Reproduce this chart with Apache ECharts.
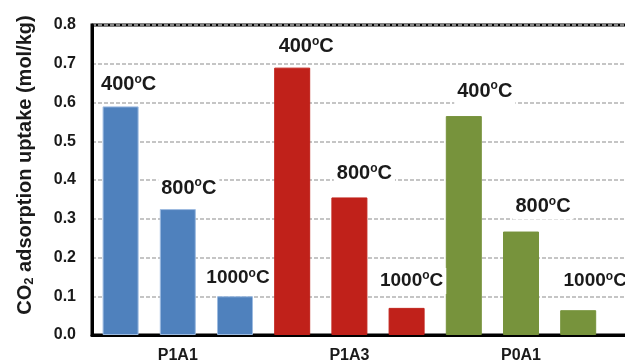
<!DOCTYPE html>
<html>
<head>
<meta charset="utf-8">
<script src="https://cdn.jsdelivr.net/npm/echarts@6/dist/echarts.min.js"></script>
<style>
html,body{margin:0;padding:0;background:#fff;overflow:hidden;width:625px;height:364px;}
#chart{width:670px;height:364px;}
</style>
</head>
<body>
<div id="chart"></div>
<script>
// ---- data ----
const groups = ['P1A1', 'P1A3', 'P0A1'];
const temps = ['400', '800', '1000'];
const p1a1 = [0.59, 0.325, 0.10];
const p1a3 = [0.69, 0.355, 0.07];
const p0a1 = [0.565, 0.267, 0.064];
const yTicks = ['0.0', '0.1', '0.2', '0.3', '0.4', '0.5', '0.6', '0.7', '0.8'];

// ---- styles ----
const groupColors = ['#4f81bd', '#c0211a', '#77933c'];
const groupBorders = ['#9dbbe0', '#c0211a', '#77933c'];
// label nudges [dx, dy] relative to bar top (style only)
const labelNudge = [
  [8, -9], [11, -8], [3, -5],
  [14, -8], [15, -11], [5, -14],
  [21, -12], [22, -12], [17, -16]
];

const groupValues = [p1a1, p1a3, p0a1];
const categories = [];
const barData = [];
groups.forEach((g, gi) => {
  temps.forEach((t, ti) => {
    categories.push(g + ' ' + t);
    const idx = gi * 3 + ti;
    const big = t === '1000' ? 'm' : 'n';
    barData.push({
      value: groupValues[gi][ti],
      itemStyle: { color: groupColors[gi], borderColor: groupBorders[gi], borderWidth: 1 },
      label: {
        offset: labelNudge[idx],
        formatter: '{' + big + '|' + t + '}{s|o}{' + big + '|C}'
      }
    });
  });
});
categories.push(''); // spare slot: the plot continues past the right edge

const chart = echarts.init(document.getElementById('chart'), null, { renderer: 'canvas' });
const FONT = '"Liberation Sans", Arial, Helvetica, sans-serif';
chart.setOption({
  animation: false,
  backgroundColor: '#fff',
  grid: {
    left: 92, top: 25, bottom: 27.5, right: 6,
    show: true, borderColor: '#000', borderWidth: 3, backgroundColor: 'transparent'
  },
  xAxis: {
    type: 'category',
    data: categories,
    axisLine: { show: true, lineStyle: { color: '#000', width: 3 } },
    axisTick: { show: false },
    axisLabel: {
      interval: 0,
      margin: 13,
      fontFamily: FONT, fontWeight: 'bold', fontSize: 16, color: '#1a1a1a',
      formatter: (v, i) => (i % 3 === 1 ? v.split(' ')[0] : '')
    },
    splitLine: { show: false }
  },
  yAxis: {
    type: 'value',
    min: 0, max: 0.8, interval: 0.1,
    axisLine: { show: true, lineStyle: { color: '#000', width: 3 } },
    axisTick: { show: false },
    axisLabel: {
      margin: 16,
      fontFamily: FONT, fontWeight: 'bold', fontSize: 16, color: '#1a1a1a',
      formatter: (v) => yTicks[Math.round(v * 10)]
    },
    splitLine: {
      show: true,
      lineStyle: { color: '#b2b2b2', width: 1.6, type: [4, 2] }
    },
    name: '{a|CO}{b|2}{a| adsorption uptake (mol/kg)}',
    nameLocation: 'middle',
    nameGap: 56,
    nameRotate: 90,
    nameTextStyle: {
      padding: [0, 0, 0, 30],
      rich: {
        a: { fontFamily: FONT, fontWeight: 'bold', fontSize: 20, color: '#1a1a1a', lineHeight: 22 },
        b: { fontFamily: FONT, fontWeight: 'bold', fontSize: 13, color: '#1a1a1a', lineHeight: 22, padding: [9, 0, 0, 0] }
      }
    }
  },
  series: [{
    type: 'bar',
    data: barData,
    barWidth: 36,
    label: {
      show: true,
      position: 'top',
      distance: 0,
      backgroundColor: '#fff',
      padding: [2, 3, 2, 3],
      rich: {
        n: { fontFamily: FONT, fontWeight: 'bold', fontSize: 20, color: '#1a1a1a', lineHeight: 22 },
        m: { fontFamily: FONT, fontWeight: 'bold', fontSize: 19, color: '#1a1a1a', lineHeight: 22 },
        s: { fontFamily: FONT, fontWeight: 'bold', fontSize: 12, color: '#1a1a1a', lineHeight: 22, padding: [0, 0, 10, 0] }
      }
    }
  }]
});
</script>
</body>
</html>
